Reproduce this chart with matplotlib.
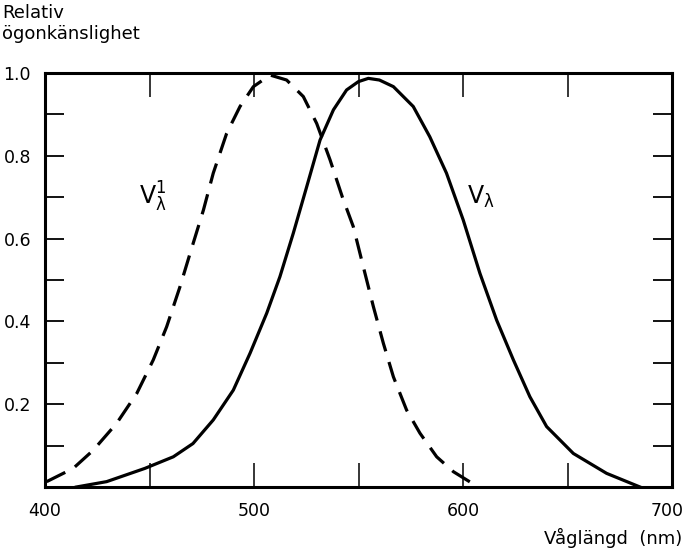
import matplotlib
matplotlib.use("Agg")
import matplotlib.pyplot as plt
import matplotlib.transforms as mtransforms

# photopic curve V_lambda
v_nm = [415, 429.5, 447.8, 461.4, 470.8, 480.5, 490.1, 498.1, 506.1, 512.4,
        518.8, 525.2, 531.6, 538, 544.3, 549.9, 554.7, 560, 566.7, 576.2,
        584.1, 592.1, 600.1, 608.1, 616.1, 624.1, 632, 640, 652.8, 668.7, 684.7]
v_val = [0.0, 0.013, 0.045, 0.073, 0.105, 0.162, 0.234, 0.323, 0.42, 0.508,
         0.613, 0.725, 0.838, 0.911, 0.959, 0.979, 0.987, 0.983, 0.967, 0.919,
         0.846, 0.758, 0.645, 0.516, 0.403, 0.307, 0.218, 0.146, 0.081, 0.033,
         0.0]

# scotopic curve V'_lambda
vs_nm = [400.8, 413.5, 423.1, 434.3, 443.9, 451.8, 458.2, 464.6, 469.4, 475.8,
         480.5, 486.9, 493.3, 499.7, 507.7, 515.6, 523.6, 530, 536.4, 542.3,
         547.5, 552.3, 557.1, 561.9, 566.7, 573, 579.4, 587.4, 595.4, 601.8,
         607.3]
vs_val = [0.013, 0.045, 0.089, 0.154, 0.226, 0.307, 0.387, 0.484, 0.564, 0.669,
          0.758, 0.854, 0.919, 0.967, 0.995, 0.983, 0.943, 0.878, 0.79, 0.7,
          0.629, 0.532, 0.436, 0.347, 0.266, 0.186, 0.13, 0.073, 0.037, 0.017,
          0.0]

x_ticks = [400, 450, 500, 550, 600, 650, 700]
x_labels = ['400', '', '500', '', '600', '', '700']
y_ticks = [0.0, 0.1, 0.2, 0.3, 0.4, 0.5, 0.6, 0.7, 0.8, 0.9, 1.0]
y_labels = ['', '', '0.2', '', '0.4', '', '0.6', '', '0.8', '', '1.0']

plt.rcParams['font.family'] = ['DejaVu Sans']
plt.rcParams['mathtext.default'] = 'regular'

fig = plt.figure(figsize=(6.86, 5.55), dpi=100)
ax = fig.add_axes([0.0656, 0.1225, 0.914, 0.746])

ax.plot(v_nm, v_val, color='black', lw=2.3, solid_joinstyle='round')
ax.plot(vs_nm, vs_val, color='black', lw=2.3, linestyle=(0, (6.5, 3.5)),
        dash_joinstyle='round')

ax.set_xlim(400, 700)
ax.set_ylim(0, 1.0)
ax.set_xticks(x_ticks)
ax.set_xticklabels(x_labels)
ax.set_yticks(y_ticks)
ax.set_yticklabels(y_labels)

for s in ax.spines.values():
    s.set_linewidth(2.2)

ax.tick_params(axis='x', direction='in', length=17, width=1.1, top=True,
               labelsize=12.5, pad=11)
ax.tick_params(axis='y', direction='in', length=14, width=1.3, right=True,
               labelsize=12.5, pad=10)

# keep the last x label inside the figure
last = ax.get_xticklabels()[-1]
last.set_transform(last.get_transform() +
                   mtransforms.ScaledTranslation(-5 / 100, 0, fig.dpi_scale_trans))

ax.text(445, 0.70, r"$V_{\lambda}^{1}$", fontsize=17, ha='left', va='center')
ax.text(602, 0.70, r"$V_{\lambda}$", fontsize=17, ha='left', va='center')

fig.text(0.003, 0.993, "Relativ\nögonkänslighet", fontsize=13, ha='left',
         va='top', linespacing=1.25)
fig.text(0.995, 0.012, "Våglängd  (nm)", fontsize=13, ha='right',
         va='bottom')

fig.savefig('out.png', dpi=100, facecolor='white')
